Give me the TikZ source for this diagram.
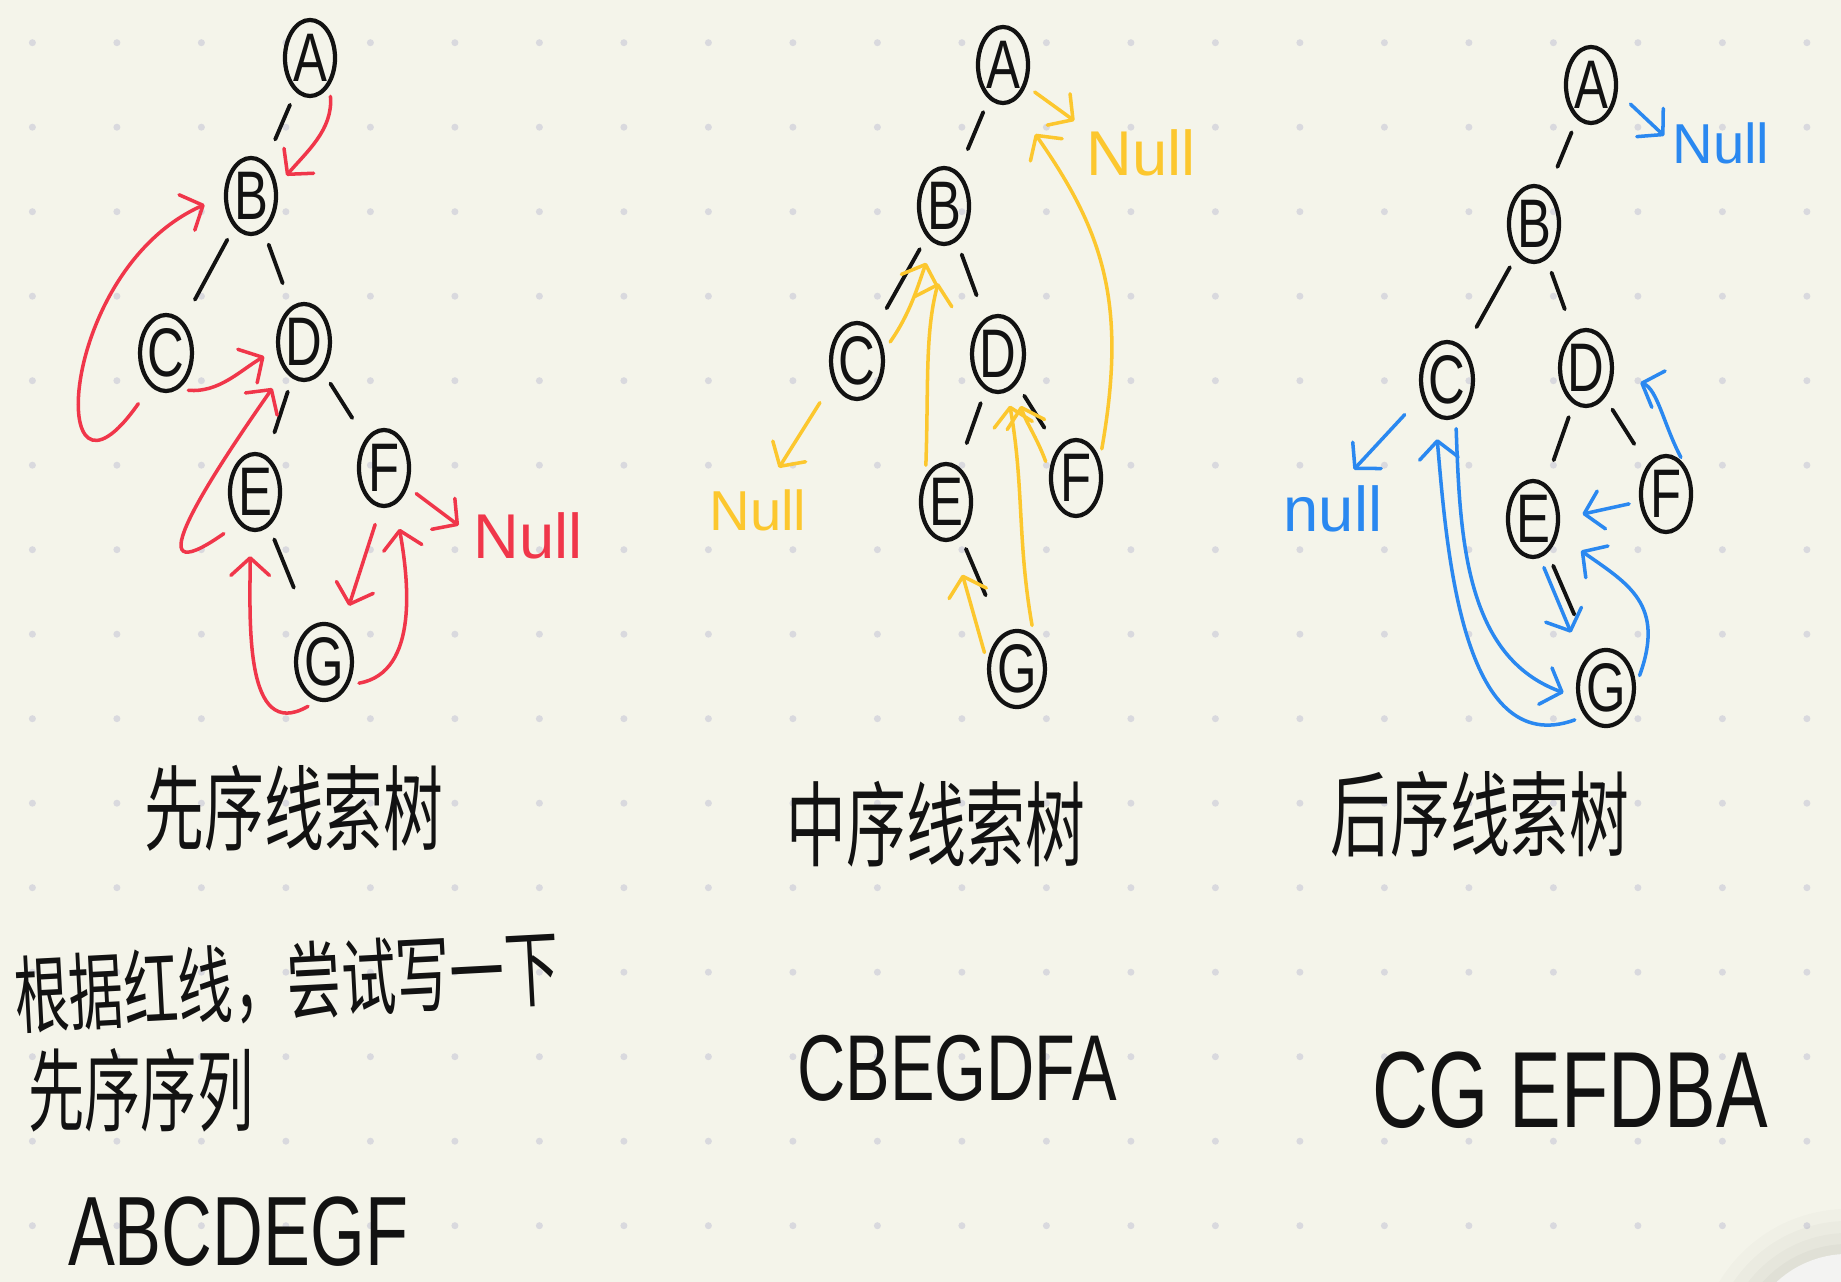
\documentclass[tikz,border=0pt]{standalone}
\usepackage{fontspec}
\setmainfont{Liberation Sans}
\newfontfamily\cjk{Noto Sans CJK SC}
\usepackage{tikz}
\usetikzlibrary{shapes,arrows.meta}
\definecolor{paper}{RGB}{244,244,234}
\definecolor{dotc}{RGB}{217,217,222}
\definecolor{ink}{RGB}{18,18,18}
\definecolor{redt}{RGB}{240,54,74}
\definecolor{yelt}{RGB}{252,199,46}
\definecolor{blut}{RGB}{42,136,240}
\definecolor{knob}{RGB}{243,243,242}
\newcommand{\hwr}[1]{\scalebox{0.85}[1.15]{#1}}
\newcommand{\tallt}[2]{\scalebox{1}[#1]{#2}}

\begin{document}
\begin{tikzpicture}[x=0.01cm,y=-0.01cm,>={Straight Barb[length=5pt,width=11pt,round]},
vtx/.style={ellipse,draw=ink,line width=1.2pt,minimum width=0.5cm,minimum height=0.76cm,inner sep=0pt,text=ink,font=\fontsize{17}{17}\selectfont},
link/.style={draw=ink,line width=1.1pt,line cap=round,shorten <=4pt,shorten >=7pt},
thr/.style={->,line width=1pt,line cap=round,shorten <=3pt,shorten >=4pt},
nul/.style={inner sep=0pt,font=\fontsize{18}{18}\selectfont},
ttl/.style={inner sep=0pt,text=ink,font=\cjk\fontsize{17}{17}\selectfont},
seq/.style={inner sep=0pt,text=ink}]
\useasboundingbox(0,0)rectangle(1841,1282);
\fill[paper](0,0)rectangle(1841,1282);
\foreach \i in {0,...,21}
  \foreach \j in {0,...,14}
    \fill[dotc]({32.4+84.5*\i},{42.7+84.5*\j})circle(0.035cm);
\begin{scope}
\clip(0,0)rectangle(1841,1282);
\foreach \r/\o in {1.5/0.015,1.38/0.02,1.26/0.02,1.15/0.025}
  \fill[black,opacity=\o](1848,1359)circle(\r cm);
\fill[knob](1848,1359)circle(1.05cm);
\end{scope}

\node[vtx](a1)at(310,58){\hwr{A}};
\node[vtx](b1)at(251,196){\hwr{B}};
\node[vtx](c1)at(166,353){\hwr{C}};
\node[vtx](d1)at(304,342){\hwr{D}};
\node[vtx](e1)at(255,492){\hwr{E}};
\node[vtx](f1)at(384,468){\hwr{F}};
\node[vtx](g1)at(324,662){\hwr{G}};
\draw[link](a1)--(b1);
\draw[link](b1)--(c1);
\draw[link](b1)--(d1);
\draw[link](d1)--(e1);
\draw[link](d1)--(f1);
\draw[link,shorten >=12pt](e1)--(g1);
\node[nul,text=redt](n1)at(528,536){Null};
\draw[thr,redt](a1.-55)to[out=-85,in=50](b1.20);
\draw[thr,redt,shorten <=6pt,shorten >=6pt](c1.-115)to[out=-125,in=-156,looseness=2.3](b1.180);
\draw[thr,redt](c1.-72)to[out=-5,in=-150](d1.-165);
\draw[thr,redt,shorten <=5pt,shorten >=6pt](e1.-118)to[out=-145,in=-125,looseness=2.1](d1.-124);
\draw[thr,redt,shorten >=7pt](g1.-100)to[out=-150,in=-90,looseness=1.2](e1.-97);
\draw[thr,redt,shorten <=5pt,shorten >=7pt](f1.-95)--(g1.62);
\draw[thr,redt,shorten >=7pt](g1.-43)to[out=10,in=-80](f1.-73);
\draw[thr,redt,shorten >=5pt](f1.-39)--(n1.west);

\node[vtx](a2)at(1003,65){\hwr{A}};
\node[vtx](b2)at(944,206){\hwr{B}};
\node[vtx](c2)at(857,361){\hwr{C}};
\node[vtx](d2)at(998,354){\hwr{D}};
\node[vtx](e2)at(946,502){\hwr{E}};
\node[vtx](f2)at(1076,478){\hwr{F}};
\node[vtx](g2)at(1017,669){\hwr{G}};
\draw[link](a2)--(b2);
\draw[link](b2)--(c2);
\draw[link](b2)--(d2);
\draw[link](d2)--(e2);
\draw[link](d2)--(f2);
\draw[link,shorten >=12pt](e2)--(g2);
\node[nul,text=yelt](n2a)at(1141,153){Null};
\node[nul,text=yelt,font=\fontsize{16}{16}\selectfont](n2b)at(758,510){Null};
\draw[thr,yelt](a2.-42)--(n2a.north west);
\draw[thr,yelt,shorten <=7pt,shorten >=7pt](c2.-139)--(n2b.70);
\draw[thr,yelt,shorten >=6pt](c2.21)to[out=55,in=-110](b2.-106);
\draw[thr,yelt,shorten >=11pt](e2.128)to[out=88,in=-105](b2.-84);
\draw[thr,yelt,shorten >=10pt](g2.168)--(e2.-80);
\draw[thr,yelt](g2.63)to[out=100,in=-80](d2.-76);
\draw[thr,yelt,shorten >=6pt](f2.166)to[out=110,in=-75](d2.-61);
\draw[thr,yelt,shorten >=11pt](f2.38)to[out=80,in=-55,looseness=1.1](a2.-75);

\node[vtx](a3)at(1591,85){\hwr{A}};
\node[vtx](b3)at(1534,224){\hwr{B}};
\node[vtx](c3)at(1447,380){\hwr{C}};
\node[vtx](d3)at(1586,368){\hwr{D}};
\node[vtx](e3)at(1533,519){\hwr{E}};
\node[vtx](f3)at(1666,494){\hwr{F}};
\node[vtx](g3)at(1606,688){\hwr{G}};
\draw[link](a3)--(b3);
\draw[link](b3)--(c3);
\draw[link](b3)--(d3);
\draw[link](d3)--(e3);
\draw[link](d3)--(f3);
\draw[link,shorten >=12pt](e3)--(g3);
\node[nul,text=blut,font=\fontsize{16}{16}\selectfont](n3a)at(1721,143){Null};
\node[nul,text=blut](n3b)at(1333,509){null};
\draw[thr,blut,shorten <=5pt,shorten >=3pt](a3.-15)--(n3a.west);
\draw[thr,blut,shorten <=7pt,shorten >=6pt](c3.-147)--(n3b.75);
\draw[thr,blut,shorten >=6.5pt](g3.-127)to[out=-160,in=-85](c3.-108);
\draw[thr,blut](c3.-77)to[out=-88,in=160](g3.-162);
\draw[thr,blut,shorten >=9pt](e3.-80)--(g3.131);
\draw[thr,blut,shorten >=8pt](g3.5)to[out=70,in=-35,looseness=1.3](e3.-32);
\draw[thr,blut,shorten >=6.5pt](f3.-164)--(e3.0);
\draw[thr,blut,shorten >=8pt](f3.54)to[out=118,in=-20](d3.-10);

\node[ttl](t1)at(294,808){\tallt{1.55}{先序线索树}};
\node[ttl](t2)at(936,824){\tallt{1.55}{中序线索树}};
\node[ttl](t3)at(1480,814){\tallt{1.55}{后序线索树}};
\node[ttl,font=\cjk\fontsize{15.5}{15.5}\selectfont,rotate=3](q1)at(287,982){\tallt{1.55}{根据红线，尝试写一下}};
\node[ttl,font=\cjk\fontsize{16}{16}\selectfont](q2)at(141,1090){\tallt{1.6}{先序序列}};
\node[seq,font=\fontsize{20}{20}\selectfont](s1)at(238,1232){\tallt{1.4}{ABCDEGF}};
\node[seq,font=\fontsize{19}{19}\selectfont](s2)at(957,1068){\tallt{1.4}{CBEGDFA}};
\node[seq,font=\fontsize{22}{22}\selectfont](s3)at(1570,1090){\tallt{1.4}{CG EFDBA}};
\end{tikzpicture}
\end{document}
